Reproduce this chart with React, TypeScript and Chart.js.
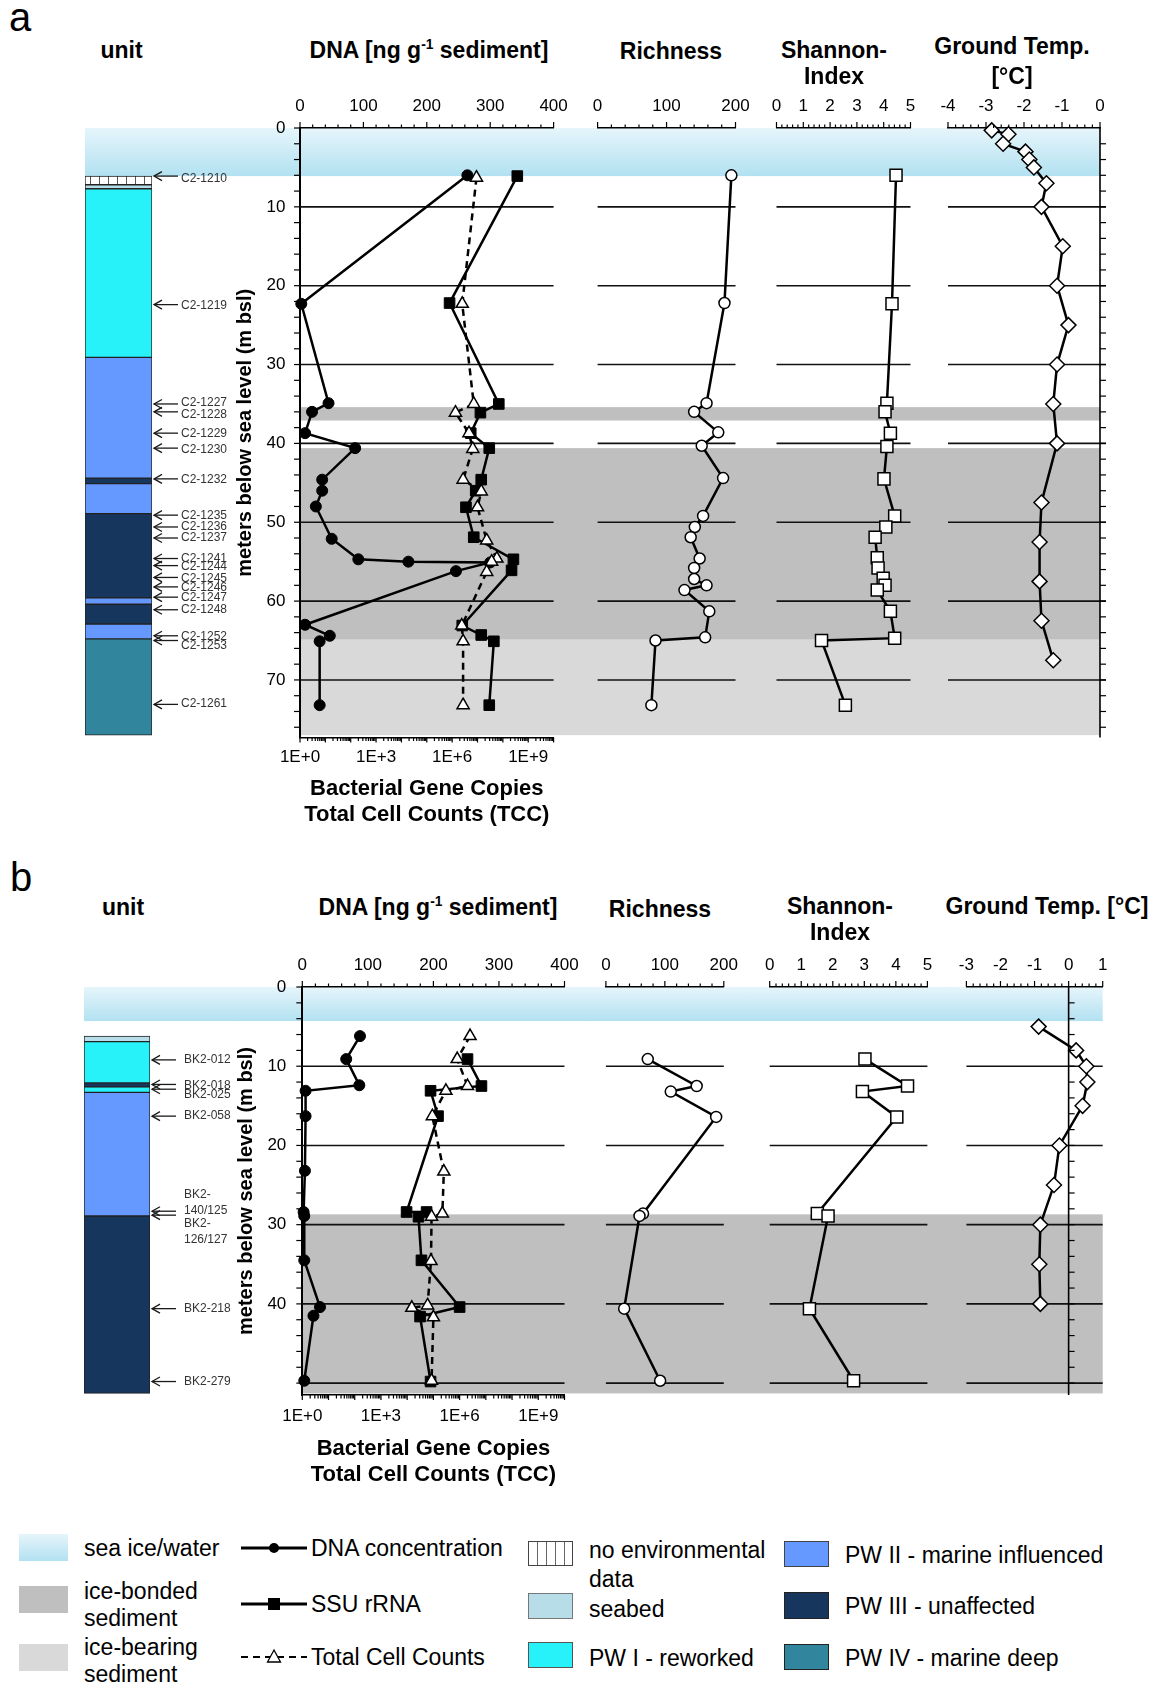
import React, { useEffect, useRef } from 'react';
import { Chart, registerables } from 'chart.js';

Chart.register(...registerables);
const FONT = '"Liberation Sans", Arial, Helvetica, sans-serif';
Chart.defaults.font.family = FONT;
Chart.defaults.color = '#000';

// ---------------- Panel a data ----------------
const A_DNA_DEPTH = [6.0, 22.3, 34.9, 36.0, 38.7, 40.6, 44.6, 46.0, 48.0, 52.1, 54.7, 55.0, 55.1, 56.2, 63.0, 64.4, 65.1, 73.2];
const A_DNA_VALUE = [264, 2, 45, 19, 8, 87, 35, 35, 25, 50, 92, 171, 300, 246, 8, 47, 31, 31];
const A_SSU_DEPTH = [6.1, 22.2, 35.0, 36.1, 38.7, 40.6, 44.6, 46.0, 48.1, 51.9, 54.7, 56.1, 63.1, 64.3, 65.1, 73.2];
const A_SSU_VALUE = [3.7e8, 7.9e5, 6.9e7, 1.3e7, 5.4e6, 2.9e7, 1.4e7, 8.5e6, 3.5e6, 7.1e6, 2.6e8, 2.2e8, 2.5e6, 1.4e7, 4.4e7, 2.9e7];
const A_TCC_DEPTH = [6.3, 22.3, 35.0, 36.1, 38.7, 40.7, 44.6, 46.1, 48.1, 52.3, 54.6, 55.0, 56.3, 63.1, 65.1, 73.2];
const A_TCC_VALUE = [9.1e6, 2.5e6, 7.1e6, 1.35e6, 4.6e6, 6.5e6, 2.7e6, 1.4e7, 1.0e7, 2.3e7, 5.8e7, 3.6e7, 2.3e7, 2.4e6, 2.7e6, 2.7e6];
const A_RICH_DEPTH = [6.0, 22.2, 34.9, 36.0, 38.6, 40.3, 44.4, 49.2, 50.6, 51.9, 54.6, 55.8, 57.2, 58.0, 58.6, 61.3, 64.6, 65.0, 73.2];
const A_RICH_VALUE = [194, 184, 158, 140, 175, 151, 182, 153, 141, 135, 148, 140, 140, 158, 126, 162, 156, 84, 78];
const A_SHAN_DEPTH = [6.0, 22.3, 34.9, 36.0, 38.7, 40.4, 44.5, 49.2, 50.6, 51.9, 54.5, 55.8, 57.1, 58.0, 58.6, 61.3, 64.7, 65.0, 73.2];
const A_SHAN_VALUE = [4.46, 4.31, 4.12, 4.05, 4.25, 4.12, 4.01, 4.41, 4.08, 3.68, 3.76, 3.79, 3.98, 4.05, 3.76, 4.25, 4.41, 1.68, 2.57];
const A_TEMP_DEPTH = [0.3, 0.8, 2.0, 3.0, 4.0, 5.0, 7.0, 10, 15, 20, 25, 30, 35, 40, 47.5, 52.5, 57.5, 62.5, 67.5];
const A_TEMP_VALUE = [-2.85, -2.41, -2.55, -1.96, -1.86, -1.74, -1.41, -1.54, -0.98, -1.13, -0.83, -1.13, -1.23, -1.13, -1.54, -1.59, -1.59, -1.54, -1.23];
const A_TEMP_RANGE = [-4, 0];
const A_UNIT_FROM = [6.1, 7.2, 7.7, 29.1, 44.4, 45.1, 48.9, 59.6, 60.4, 62.9, 64.8];
const A_UNIT_TO = [7.2, 7.7, 29.1, 44.4, 45.1, 48.9, 59.6, 60.4, 62.9, 64.8, 77.0];
const A_UNIT_TYPE = ['nodata', 'seabed', 'pw1', 'pw2', 'pw3', 'pw2', 'pw3', 'pw2', 'pw3', 'pw2', 'pw4'];
const A_SAMPLE_NAMES = ['C2-1210', 'C2-1219', 'C2-1227', 'C2-1228', 'C2-1229', 'C2-1230', 'C2-1232', 'C2-1235', 'C2-1236', 'C2-1237', 'C2-1241', 'C2-1244', 'C2-1245', 'C2-1246', 'C2-1247', 'C2-1248', 'C2-1252', 'C2-1253', 'C2-1261'];
const A_SAMPLE_DEPTHS = [6.1, 22.4, 35.0, 36.0, 38.7, 40.6, 44.5, 49.1, 50.6, 52.0, 54.6, 55.5, 57.0, 58.2, 59.5, 61.1, 64.4, 65.0, 73.1];
const A_SAMPLE_LABEL_DEPTHS = [6.4, 22.5, 34.8, 36.4, 38.8, 40.8, 44.6, 49.2, 50.6, 52.0, 54.6, 55.6, 57.2, 58.3, 59.6, 61.1, 64.5, 65.7, 73.0];
const A_SEA = [0, 6.1];
const A_BONDED_FROM = [35.4, 40.6];
const A_BONDED_TO = [37.1, 64.9];
const A_BEARING_FROM = [64.9];
const A_BEARING_TO = [77.0];

// ---------------- Panel b data ----------------
const B_DNA_DEPTH = [6.2, 9.1, 12.4, 13.1, 16.3, 23.2, 28.4, 28.9, 34.5, 40.4, 41.5, 49.7];
const B_DNA_VALUE = [88, 67, 87, 5, 5, 4, 2, 3, 3, 27, 17, 3];
const B_SSU_DEPTH = [9.1, 12.5, 13.1, 16.3, 28.4, 28.4, 29.0, 34.5, 40.4, 41.6, 49.8];
const B_SSU_VALUE = [2.0e6, 6.8e6, 7.8e4, 1.5e5, 9.5e3, 5.5e4, 2.7e4, 3.5e4, 1.0e6, 3.1e4, 7.8e4];
const B_TCC_DEPTH = [6.2, 9.1, 12.5, 13.1, 16.3, 23.3, 28.6, 29.0, 34.6, 40.2, 40.5, 41.7, 49.7];
const B_TCC_VALUE = [2.5e6, 8.1e5, 2.0e6, 3.0e5, 9.1e4, 2.5e5, 2.2e5, 8.5e4, 8.1e4, 6.0e4, 1.5e4, 1.0e5, 8.5e4];
const B_RICH_DEPTH = [9.1, 12.5, 13.2, 16.4, 28.6, 28.9, 40.6, 49.7];
const B_RICH_VALUE = [71, 154, 110, 187, 63, 57, 31, 92];
const B_SHAN_DEPTH = [9.1, 12.5, 13.2, 16.4, 28.6, 28.9, 40.6, 49.7];
const B_SHAN_VALUE = [3.02, 4.37, 2.94, 4.03, 1.51, 1.85, 1.26, 2.66];
const B_TEMP_DEPTH = [5, 8, 10, 12, 15, 20, 25, 30, 35, 40];
const B_TEMP_VALUE = [-0.88, 0.22, 0.52, 0.55, 0.41, -0.27, -0.43, -0.83, -0.86, -0.83];
const B_TEMP_RANGE = [-3, 1];
const B_UNIT_FROM = [6.2, 6.9, 12.1, 12.6, 13.3, 28.9];
const B_UNIT_TO = [6.9, 12.1, 12.6, 13.3, 28.9, 51.3];
const B_UNIT_TYPE = ['seabed', 'pw1', 'pw3', 'pw1', 'pw2', 'pw3'];
const B_SAMPLE_NAMES = ['BK2-012', 'BK2-018', 'BK2-025', 'BK2-058', 'BK2-\n140/125', 'BK2-\n126/127', 'BK2-218', 'BK2-279'];
const B_SAMPLE_DEPTHS = [9.2, 12.3, 12.9, 16.3, 28.3, 28.8, 40.6, 49.8];
const B_SAMPLE_LABEL_DEPTHS = [9.2, 12.4, 13.6, 16.3, 27.2, 30.9, 40.6, 49.8];
const B_SEA = [0, 4.3];
const B_BONDED_FROM = [28.7];
const B_BONDED_TO = [51.3];
const B_BEARING_FROM: number[] = [];
const B_BEARING_TO: number[] = [];

// ---------------- axis text ----------------
const LOG_LABEL_EXPS = [0, 3, 6, 9];
const LOG_TITLE = ['Bacterial Gene Copies', 'Total Cell Counts (TCC)'];
const Y_TITLE = 'meters below sea level (m bsl)';

// ---------------- colours ----------------
const SEA_TOP = '#E6F5FB';
const SEA_BOTTOM = '#B2E1F1';
const ICE_BONDED = '#BFBFBF';
const ICE_BEARING = '#D9D9D9';
const UNIT_COLORS: any = { seabed: '#B7DEE8', pw1: '#27F2F9', pw2: '#6699FF', pw3: '#17365D', pw4: '#31859C' };

// ---------------- layout ----------------
const TOP_AXIS_H = 40;
const GEO_A = {
  top: 74, height: 756, areaTop: 54, areaBottom: 663.5, yMax: 77.3,
  unit: { x0: 0, x1: 232, left: 85, right: 152 },
  dna: { x0: 232, x1: 576, left: 300, right: 553.6, padL: 1 },
  rich: { x0: 576, x1: 756, left: 597.6, right: 735.5 },
  shan: { x0: 756, x1: 930, left: 776.5, right: 910.5 },
  temp: { x0: 930, x1: 1161, left: 948, right: 1100 },
  topLabelPad: 3, yLabelPad: 6.5, logLabelPad: 2, logTitlePad: 1.8, tempGridExt: 6, labelOffset: 29,
};
const GEO_B = {
  top: 933, height: 557, areaTop: 54, areaBottom: 462, yMax: 51.5,
  unit: { x0: 0, x1: 234, left: 84, right: 150 },
  dna: { x0: 234, x1: 585, left: 302.3, right: 564.5, padL: 0.8 },
  rich: { x0: 585, x1: 746, left: 605.9, right: 723.8 },
  shan: { x0: 746, x1: 947, left: 769.7, right: 927.4 },
  temp: { x0: 947, x1: 1161, left: 966.4, right: 1102.7 },
  topLabelPad: 3.5, yLabelPad: 8, logLabelPad: 3, logTitlePad: 1.8, tempGridExt: 0, labelOffset: 34,
};

const PANEL_A = {
  dnaD: A_DNA_DEPTH, dnaV: A_DNA_VALUE, ssuD: A_SSU_DEPTH, ssuV: A_SSU_VALUE, tccD: A_TCC_DEPTH, tccV: A_TCC_VALUE,
  richD: A_RICH_DEPTH, richV: A_RICH_VALUE, shanD: A_SHAN_DEPTH, shanV: A_SHAN_VALUE, tempD: A_TEMP_DEPTH, tempV: A_TEMP_VALUE,
  tempRange: A_TEMP_RANGE, unitFrom: A_UNIT_FROM, unitTo: A_UNIT_TO, unitType: A_UNIT_TYPE,
  names: A_SAMPLE_NAMES, sDepths: A_SAMPLE_DEPTHS, lDepths: A_SAMPLE_LABEL_DEPTHS,
  sea: A_SEA, bondedFrom: A_BONDED_FROM, bondedTo: A_BONDED_TO, bearingFrom: A_BEARING_FROM, bearingTo: A_BEARING_TO,
};
const PANEL_B = {
  dnaD: B_DNA_DEPTH, dnaV: B_DNA_VALUE, ssuD: B_SSU_DEPTH, ssuV: B_SSU_VALUE, tccD: B_TCC_DEPTH, tccV: B_TCC_VALUE,
  richD: B_RICH_DEPTH, richV: B_RICH_VALUE, shanD: B_SHAN_DEPTH, shanV: B_SHAN_VALUE, tempD: B_TEMP_DEPTH, tempV: B_TEMP_VALUE,
  tempRange: B_TEMP_RANGE, unitFrom: B_UNIT_FROM, unitTo: B_UNIT_TO, unitType: B_UNIT_TYPE,
  names: B_SAMPLE_NAMES, sDepths: B_SAMPLE_DEPTHS, lDepths: B_SAMPLE_LABEL_DEPTHS,
  sea: B_SEA, bondedFrom: B_BONDED_FROM, bondedTo: B_BONDED_TO, bearingFrom: B_BEARING_FROM, bearingTo: B_BEARING_TO,
};

// ---------------- decoration plugin ----------------
function decor(cfg: any) {
  return {
    id: 'decor',
    beforeDraw(chart: any) {
      const { ctx, chartArea: ca, width } = chart;
      const ys = chart.scales.y;
      ctx.save();
      for (const b of cfg.bands) {
        const y0 = ys.getPixelForValue(b.from);
        const y1 = ys.getPixelForValue(b.to);
        const x0 = b.x0 === 'area' ? ca.left : 0;
        const x1 = b.x1 === 'area' ? ca.right : width;
        if (Array.isArray(b.fill)) {
          const g = ctx.createLinearGradient(0, y0, 0, y1);
          g.addColorStop(0, b.fill[0]);
          g.addColorStop(1, b.fill[1]);
          ctx.fillStyle = g;
        } else ctx.fillStyle = b.fill;
        ctx.fillRect(x0, y0, x1 - x0, y1 - y0);
      }
      ctx.restore();
    },
    beforeDatasetsDraw(chart: any) {
      const g = cfg.grid;
      if (!g) return;
      const { ctx, chartArea: ca } = chart;
      const ys = chart.scales.y;
      ctx.save();
      ctx.strokeStyle = '#111';
      ctx.lineWidth = 1.6;
      const n = Math.floor(ys.max / g.step + 1e-9);
      for (let i = 1; i <= n; i++) {
        const py = ys.getPixelForValue(i * g.step);
        ctx.beginPath();
        ctx.moveTo(ca.left, py);
        ctx.lineTo(ca.right + (g.ext || 0), py);
        ctx.stroke();
      }
      ctx.restore();
    },
    afterDraw(chart: any) {
      const { ctx, chartArea: ca } = chart;
      const ys = chart.scales.y;
      ctx.save();
      ctx.strokeStyle = '#000';
      ctx.lineWidth = 1.2;
      const line = (x1: number, y1: number, x2: number, y2: number) => {
        ctx.beginPath();
        ctx.moveTo(x1, y1);
        ctx.lineTo(x2, y2);
        ctx.stroke();
      };
      if (cfg.topTicks) {
        const xs = chart.scales.x;
        const { major, minor } = cfg.topTicks;
        const n = Math.round((xs.max - xs.min) / minor);
        for (let i = 0; i <= n; i++) {
          const v = xs.min + i * minor;
          const r = v / major;
          const isMajor = Math.abs(r - Math.round(r)) < 1e-6;
          const px = xs.getPixelForValue(v);
          line(px, ca.top, px, ca.top - (isMajor ? 6 : 3.5));
        }
      }
      if (cfg.leftTicks) {
        const n = Math.floor(ys.max / cfg.leftTicks + 1e-9);
        for (let i = 0; i <= n; i++) {
          const py = ys.getPixelForValue(i * cfg.leftTicks);
          line(ca.left, py, ca.left - 6, py);
        }
      }
      if (cfg.logTicks) {
        const xl = chart.scales.xlog;
        for (let e = 0; e < 10; e++) {
          for (let m = 1; m < 10; m++) {
            const px = xl.getPixelForValue(m * Math.pow(10, e));
            line(px, ca.bottom, px, ca.bottom + (m === 1 ? 5 : 3.5));
          }
        }
        const pe = xl.getPixelForValue(1e10);
        line(pe, ca.bottom, pe, ca.bottom + 5);
      }
      if (cfg.zeroAxis) {
        const xs = chart.scales.x;
        const px = xs.getPixelForValue(0);
        ctx.lineWidth = 1.6;
        line(px, ca.top, px, ca.bottom);
        ctx.lineWidth = 1.2;
        const n = Math.floor(ys.max / cfg.zeroAxis + 1e-9);
        for (let i = 1; i <= n; i++) {
          const py = ys.getPixelForValue(i * cfg.zeroAxis);
          line(px, py, px + 6, py);
        }
      }
      if (cfg.samples) {
        const s = cfg.samples;
        const xr = ca.right;
        ctx.strokeStyle = '#1a1a1a';
        ctx.lineWidth = 1.3;
        ctx.fillStyle = '#333';
        ctx.font = `12px ${FONT}`;
        ctx.textBaseline = 'middle';
        ctx.textAlign = 'left';
        s.names.forEach((name: string, i: number) => {
          const py = ys.getPixelForValue(s.depths[i]);
          line(xr + 2, py, xr + 26, py);
          ctx.beginPath();
          ctx.moveTo(xr + 10, py - 4.5);
          ctx.lineTo(xr + 2, py);
          ctx.lineTo(xr + 10, py + 4.5);
          ctx.stroke();
          const ly = ys.getPixelForValue(s.labelDepths[i]);
          const parts = name.split('\n');
          parts.forEach((t, k) => ctx.fillText(t, xr + s.offset, ly + (k - (parts.length - 1) / 2) * 16));
        });
      }
      ctx.restore();
    },
  };
}

// ---------------- helpers ----------------
function commonOpts(padding: any) {
  return {
    responsive: false,
    maintainAspectRatio: false,
    animation: false,
    events: [],
    layout: { padding },
    plugins: { legend: { display: false }, tooltip: { enabled: false } },
  };
}

function topX(min: number, max: number, step: number, pad: number) {
  return {
    type: 'linear', position: 'top', min, max,
    ticks: { stepSize: step, color: '#000', font: { family: FONT, size: 17 }, padding: pad, maxRotation: 0, minRotation: 0, autoSkip: false },
    grid: { display: false },
    border: { display: true, color: '#000', width: 1.5 },
    afterFit: (s: any) => { s.height = TOP_AXIS_H; },
  };
}

function hiddenY(yMax: number) {
  return { type: 'linear', display: false, reverse: true, min: 0, max: yMax };
}

function series(depths: number[], values: number[], style: any) {
  return { data: depths.map((d, i) => ({ x: values[i], y: d })), showLine: true, clip: false, tension: 0, ...style };
}

const LINE = { borderColor: '#000', pointBorderColor: '#000' };
const STYLE_DNA = { ...LINE, xAxisID: 'x', borderWidth: 2.5, pointStyle: 'circle', pointRadius: 5.5, pointBackgroundColor: '#000', pointBorderWidth: 1 };
const STYLE_SSU = { ...LINE, xAxisID: 'xlog', borderWidth: 2.5, pointStyle: 'rect', pointRadius: 7.5, pointBackgroundColor: '#000', pointBorderWidth: 1 };
const STYLE_TCC = { ...LINE, xAxisID: 'xlog', borderWidth: 2.5, borderDash: [7, 5], pointStyle: 'triangle', pointRadius: 7, pointBackgroundColor: '#fff', pointBorderWidth: 1.5 };
const STYLE_RICH = { ...LINE, borderWidth: 2.5, pointStyle: 'circle', pointRadius: 5.5, pointBackgroundColor: '#fff', pointBorderWidth: 1.5 };
const STYLE_SHAN = { ...LINE, borderWidth: 2.5, pointStyle: 'rect', pointRadius: 8.5, pointBackgroundColor: '#fff', pointBorderWidth: 1.5 };
const STYLE_TEMP = { ...LINE, borderWidth: 2.5, pointStyle: 'rectRot', pointRadius: 7.5, pointBackgroundColor: '#fff', pointBorderWidth: 1.5 };

function bandsFor(kind: string, P: any) {
  const out: any[] = [];
  const seaX0 = kind === 'unit' ? 'area' : 'canvas';
  const endX1 = kind === 'temp' ? 'area' : 'canvas';
  out.push({ from: P.sea[0], to: P.sea[1], fill: [SEA_TOP, SEA_BOTTOM], x0: seaX0, x1: endX1 });
  if (kind !== 'unit') {
    const x0 = kind === 'dna' ? 'area' : 'canvas';
    P.bondedFrom.forEach((f: number, i: number) => out.push({ from: f, to: P.bondedTo[i], fill: ICE_BONDED, x0, x1: endX1 }));
    P.bearingFrom.forEach((f: number, i: number) => out.push({ from: f, to: P.bearingTo[i], fill: ICE_BEARING, x0, x1: endX1 }));
  }
  return out;
}

function hatchPattern() {
  const c = document.createElement('canvas');
  c.width = 9;
  c.height = 10;
  const g = c.getContext('2d') as CanvasRenderingContext2D;
  g.fillStyle = '#fff';
  g.fillRect(0, 0, 9, 10);
  g.fillStyle = '#555';
  g.fillRect(0, 0, 1, 10);
  return g.createPattern(c, 'repeat');
}

function panelSpecs(G: any, P: any, key: string) {
  const bottomPad = G.height - G.areaBottom;
  const topPad = G.areaTop - TOP_AXIS_H;
  const box = (k: string, b: any, make: () => any) => ({ key: key + k, left: b.x0, top: G.top, width: b.x1 - b.x0, height: G.height, make });
  const pad = (b: any) => ({ left: b.left - b.x0, right: b.x1 - b.right, top: topPad, bottom: bottomPad });

  const unit = box('unit', G.unit, () => {
    const pattern = hatchPattern();
    return {
      type: 'bar',
      data: {
        labels: ['unit'],
        datasets: P.unitFrom.map((f: number, i: number) => ({
          data: [[f, P.unitTo[i]]],
          backgroundColor: P.unitType[i] === 'nodata' ? pattern : UNIT_COLORS[P.unitType[i]],
          borderColor: '#222', borderWidth: 1, borderSkipped: false, grouped: false,
          barPercentage: 1, categoryPercentage: 1,
        })),
      },
      options: {
        ...commonOpts({ left: G.unit.left - G.unit.x0, right: G.unit.x1 - G.unit.right, top: G.areaTop, bottom: bottomPad }),
        scales: { x: { display: false }, y: hiddenY(G.yMax) },
      },
      plugins: [decor({ bands: bandsFor('unit', P), samples: { names: P.names, depths: P.sDepths, labelDepths: P.lDepths, offset: G.labelOffset } })],
    };
  });

  const dna = box('dna', G.dna, () => {
    const yW = G.dna.left - G.dna.x0 - G.dna.padL;
    return {
      type: 'scatter',
      data: {
        datasets: [
          series(P.tccD, P.tccV, STYLE_TCC),
          series(P.ssuD, P.ssuV, STYLE_SSU),
          series(P.dnaD, P.dnaV, STYLE_DNA),
        ],
      },
      options: {
        ...commonOpts({ left: G.dna.padL, right: G.dna.x1 - G.dna.right, top: topPad, bottom: 0 }),
        scales: {
          x: topX(0, 400, 100, G.topLabelPad),
          xlog: {
            type: 'logarithmic', position: 'bottom', min: 1, max: 1e10,
            afterBuildTicks: (s: any) => { s.ticks = LOG_LABEL_EXPS.map((e) => ({ value: Math.pow(10, e) })); },
            ticks: {
              color: '#000', font: { family: FONT, size: 17 }, padding: G.logLabelPad, maxRotation: 0, minRotation: 0, autoSkip: false,
              callback: (v: any) => '1E+' + Math.round(Math.log10(Number(v))),
            },
            grid: { display: false },
            border: { display: true, color: '#000', width: 1.5 },
            title: { display: true, text: LOG_TITLE, color: '#000', font: { family: FONT, size: 22, weight: 'bold' }, padding: { top: 0, bottom: G.logTitlePad } },
            afterFit: (s: any) => { s.height = bottomPad; },
          },
          y: {
            type: 'linear', position: 'left', reverse: true, min: 0, max: G.yMax,
            afterBuildTicks: (s: any) => { s.ticks = s.ticks.filter((t: any) => Math.abs(t.value % 10) < 1e-9); },
            ticks: { stepSize: 10, color: '#000', font: { family: FONT, size: 17 }, padding: G.yLabelPad },
            grid: { display: false },
            border: { display: true, color: '#000', width: 2 },
            title: { display: true, text: Y_TITLE, color: '#000', font: { family: FONT, size: 20, weight: 'bold' }, padding: 0 },
            afterFit: (s: any) => { s.width = yW; },
          },
        },
      },
      plugins: [decor({ bands: bandsFor('dna', P), grid: { step: 10, ext: 0 }, topTicks: { major: 100, minor: 20 }, leftTicks: 2, logTicks: true })],
    };
  });

  const simple = (k: string, b: any, kind: string, ds: any, x: any, extra: any) =>
    box(k, b, () => ({
      type: 'scatter',
      data: { datasets: [ds] },
      options: { ...commonOpts(pad(b)), scales: { x, y: hiddenY(G.yMax) } },
      plugins: [decor({ bands: bandsFor(kind, P), ...extra })],
    }));

  const rich = simple('rich', G.rich, 'mid', series(P.richD, P.richV, STYLE_RICH), topX(0, 200, 100, G.topLabelPad), { grid: { step: 10, ext: 0 }, topTicks: { major: 100, minor: 20 } });
  const shan = simple('shan', G.shan, 'mid', series(P.shanD, P.shanV, STYLE_SHAN), topX(0, 5, 1, G.topLabelPad), { grid: { step: 10, ext: 0 }, topTicks: { major: 1, minor: 0.2 } });
  const temp = simple('temp', G.temp, 'temp', series(P.tempD, P.tempV, STYLE_TEMP), topX(P.tempRange[0], P.tempRange[1], 1, G.topLabelPad), { grid: { step: 10, ext: G.tempGridExt }, topTicks: { major: 1, minor: 0.2 }, zeroAxis: 2 });

  return [unit, dna, rich, shan, temp];
}

function ChartBox({ spec }: any) {
  const ref = useRef<HTMLCanvasElement>(null);
  useEffect(() => {
    if (!ref.current) return;
    const chart = new Chart(ref.current, spec.make());
    return () => chart.destroy();
  }, []);
  return (
    <canvas
      ref={ref}
      width={spec.width}
      height={spec.height}
      style={{ position: 'absolute', left: spec.left, top: spec.top, width: spec.width, height: spec.height, display: 'block' }}
    />
  );
}

function Txt({ x, y, children, size = 23, bold = true, center = true }: any) {
  return (
    <div
      style={{
        position: 'absolute', left: x, top: y, transform: center ? 'translate(-50%, -50%)' : 'translate(0, -50%)',
        fontSize: size, fontWeight: bold ? 700 : 400, whiteSpace: 'nowrap', lineHeight: 1, color: '#000',
      }}
    >
      {children}
    </div>
  );
}

function Swatch({ x, y, w, h, bg, border }: any) {
  return <div style={{ position: 'absolute', left: x, top: y, width: w, height: h, background: bg, boxSizing: 'border-box', border: border || 'none' }} />;
}

function LegendLine({ x, y, kind }: any) {
  return (
    <svg style={{ position: 'absolute', left: x, top: y - 9 }} width={66} height={18}>
      {kind === 'tcc' ? (
        <line x1={0} y1={9} x2={66} y2={9} stroke="#000" strokeWidth={2.2} strokeDasharray="7 5" />
      ) : (
        <line x1={0} y1={9} x2={66} y2={9} stroke="#000" strokeWidth={3} />
      )}
      {kind === 'dna' && <circle cx={33} cy={9} r={5} fill="#000" />}
      {kind === 'ssu' && <rect x={27} y={3} width={12} height={12} fill="#000" />}
      {kind === 'tcc' && <polygon points="33,2 39.5,14 26.5,14" fill="#fff" stroke="#000" strokeWidth={1.3} />}
    </svg>
  );
}

export default function App() {
  const specs = [...panelSpecs(GEO_A, PANEL_A, 'a'), ...panelSpecs(GEO_B, PANEL_B, 'b')];
  const sup = <span>DNA [ng g<sup style={{ fontSize: '0.6em', verticalAlign: '0.6em', lineHeight: 0 }}>-1</sup> sediment]</span>;
  const L = 23;
  return (
    <div style={{ position: 'absolute', left: 0, top: 0, width: 1161, height: 1686, background: '#fff', fontFamily: FONT, overflow: 'hidden' }}>
      {specs.map((s) => <ChartBox key={s.key} spec={s} />)}

      {/* panel a headings */}
      <Txt x={9} y={17} size={40} bold={false} center={false}>a</Txt>
      <Txt x={121.5} y={50}>unit</Txt>
      <Txt x={429} y={50}>{sup}</Txt>
      <Txt x={671} y={51}>Richness</Txt>
      <Txt x={834} y={50}>Shannon-</Txt>
      <Txt x={834} y={76}>Index</Txt>
      <Txt x={1012} y={46}>Ground Temp.</Txt>
      <Txt x={1012} y={76}>[°C]</Txt>

      {/* panel b headings */}
      <Txt x={10} y={877} size={40} bold={false} center={false}>b</Txt>
      <Txt x={123} y={907}>unit</Txt>
      <Txt x={438} y={907}>{sup}</Txt>
      <Txt x={660} y={909}>Richness</Txt>
      <Txt x={840} y={906}>Shannon-</Txt>
      <Txt x={840} y={932}>Index</Txt>
      <Txt x={1047} y={906}>Ground Temp. [°C]</Txt>

      {/* legend column 1 */}
      <Swatch x={19} y={1534} w={49} h={27} bg={`linear-gradient(${SEA_TOP}, ${SEA_BOTTOM})`} />
      <Swatch x={19} y={1586} w={49} h={27} bg={ICE_BONDED} />
      <Swatch x={19} y={1644} w={49} h={27} bg={ICE_BEARING} />
      <Txt x={84} y={1548} size={L} bold={false} center={false}>sea ice/water</Txt>
      <Txt x={84} y={1591} size={L} bold={false} center={false}>ice-bonded</Txt>
      <Txt x={84} y={1618} size={L} bold={false} center={false}>sediment</Txt>
      <Txt x={84} y={1647} size={L} bold={false} center={false}>ice-bearing</Txt>
      <Txt x={84} y={1674} size={L} bold={false} center={false}>sediment</Txt>

      {/* legend column 2 */}
      <LegendLine x={241} y={1548} kind="dna" />
      <LegendLine x={241} y={1604} kind="ssu" />
      <LegendLine x={241} y={1657} kind="tcc" />
      <Txt x={311} y={1548} size={L} bold={false} center={false}>DNA concentration</Txt>
      <Txt x={311} y={1604} size={L} bold={false} center={false}>SSU rRNA</Txt>
      <Txt x={311} y={1657} size={L} bold={false} center={false}>Total Cell Counts</Txt>

      {/* legend column 3 */}
      <Swatch x={528} y={1541} w={45} h={25} bg="repeating-linear-gradient(90deg, #fff 0px, #fff 8px, #666 8px, #666 9px)" border="1px solid #444" />
      <Swatch x={528} y={1593} w={45} h={26} bg={UNIT_COLORS.seabed} border="1px solid #777" />
      <Swatch x={528} y={1642} w={45} h={26} bg={UNIT_COLORS.pw1} border="1px solid #555" />
      <Txt x={589} y={1550} size={L} bold={false} center={false}>no environmental</Txt>
      <Txt x={589} y={1579} size={L} bold={false} center={false}>data</Txt>
      <Txt x={589} y={1609} size={L} bold={false} center={false}>seabed</Txt>
      <Txt x={589} y={1658} size={L} bold={false} center={false}>PW I - reworked</Txt>

      {/* legend column 4 */}
      <Swatch x={784} y={1541} w={45} h={26} bg={UNIT_COLORS.pw2} border="1px solid #444" />
      <Swatch x={784} y={1592} w={45} h={27} bg={UNIT_COLORS.pw3} border="1px solid #222" />
      <Swatch x={784} y={1644} w={45} h={26} bg={UNIT_COLORS.pw4} border="1px solid #222" />
      <Txt x={845} y={1555} size={L} bold={false} center={false}>PW II - marine influenced</Txt>
      <Txt x={845} y={1606} size={L} bold={false} center={false}>PW III - unaffected</Txt>
      <Txt x={845} y={1658} size={L} bold={false} center={false}>PW IV - marine deep</Txt>
    </div>
  );
}
